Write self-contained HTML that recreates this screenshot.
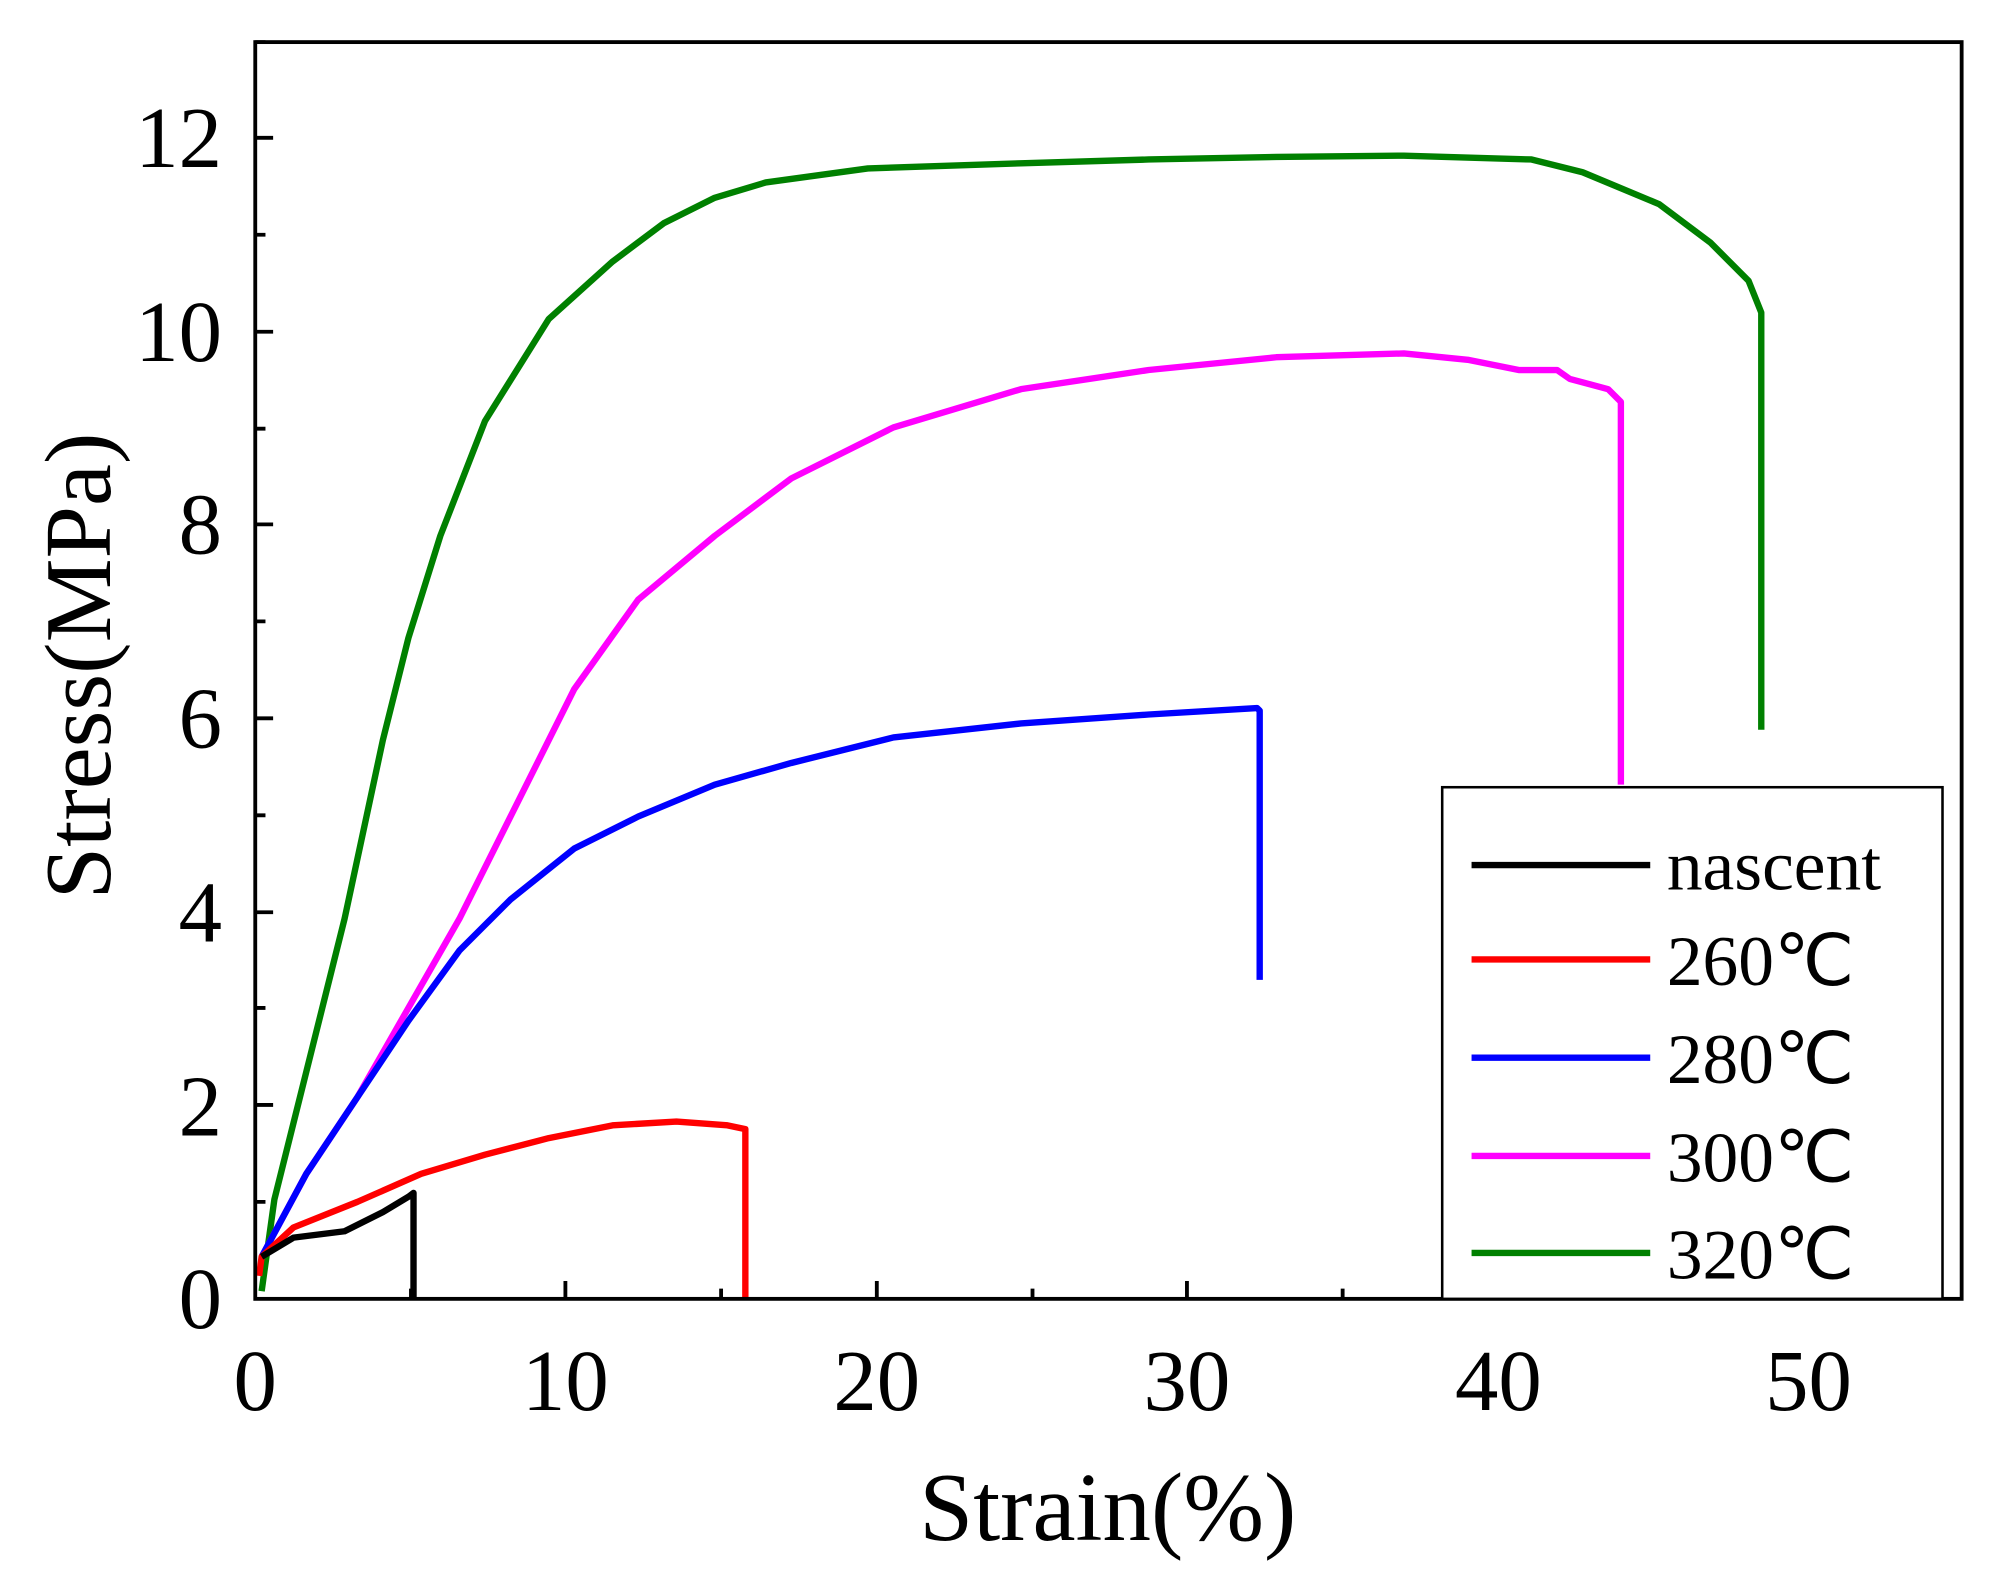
<!DOCTYPE html>
<html><head><style>html,body{margin:0;padding:0;background:#fff}svg{display:block}</style></head>
<body>
<svg width="1991" height="1577" viewBox="0 0 1560 1236" preserveAspectRatio="none" xmlns="http://www.w3.org/2000/svg" font-family="'Liberation Serif',serif">
<rect width="1560" height="1236" fill="#fff"/>
<g fill="none" stroke-width="5" stroke-linejoin="round">
<polyline stroke="#008000" points="205,1012 215,940 240,840 270,720 300,580 320,500 345,420 380,330 430,250 480,205 520,175 560,155 600,143 680,132 800,128 900,125 1000,123 1100,122 1200,125 1240,135 1300,160 1340,190 1370,220 1380,245 1380,572"/>
<polyline stroke="#ff00ff" points="205,985 240,920 280,860 320,790 360,720 400,640 450,540 500,470 560,420 620,375 700,335 800,305 900,290 1000,280 1100,277 1150,282 1190,290 1220,290 1230,297 1260,305 1270,315 1270,615"/>
<polyline stroke="#0000ff" points="205,985 240,920 280,860 320,800 360,745 400,705 450,665 500,640 560,615 620,598 700,578 800,567 900,560 985,555 987,557 987,768"/>
<polyline stroke="#ff0000" points="203,1000 205,985 230,962 280,942 330,920 380,905 430,892 480,882 530,879 570,882 584,885 584,1018"/>
<polyline stroke="#000" points="205,985 230,970 270,965 300,950 320,938 324,935 324,1018"/>
</g>
<g stroke="#000" stroke-width="3" fill="none">
<rect x="200" y="33" width="1337" height="985"/>
<path d="M443,1018v-14M687,1018v-14M930,1018v-14M1174,1018v-14M1417,1018v-14M322,1018v-8M565,1018v-8M809,1018v-8M1052,1018v-8M1296,1018v-8
M200,866h14M200,715h14M200,563h14M200,411h14M200,260h14M200,108h14M200,942h8M200,790h8M200,639h8M200,487h8M200,336h8M200,184h8M200,33h8"/>
</g>
<rect x="1130" y="617" width="392" height="401" fill="#fff" stroke="#000" stroke-width="2"/>
<g stroke-width="5">
<line x1="1153" x2="1293" y1="678" y2="678" stroke="#000"/>
<line x1="1153" x2="1293" y1="752" y2="752" stroke="#ff0000"/>
<line x1="1153" x2="1293" y1="829" y2="829" stroke="#0000ff"/>
<line x1="1153" x2="1293" y1="906" y2="906" stroke="#ff00ff"/>
<line x1="1153" x2="1293" y1="982" y2="982" stroke="#008000"/>
</g>
<g font-size="56" fill="#000">
<text x="1306" y="697">nascent</text>
<text x="1306" y="772">260℃</text>
<text x="1306" y="849">280℃</text>
<text x="1306" y="926">300℃</text>
<text x="1306" y="1002">320℃</text>
</g>
<g font-size="68" fill="#000" text-anchor="middle">
<text x="200" y="1105">0</text><text x="443" y="1105">10</text><text x="687" y="1105">20</text><text x="930" y="1105">30</text><text x="1174" y="1105">40</text><text x="1417" y="1105">50</text>
</g>
<g font-size="68" fill="#000" text-anchor="end">
<text x="174" y="1041">0</text><text x="174" y="890">2</text><text x="174" y="738">4</text><text x="174" y="586">6</text><text x="174" y="434">8</text><text x="174" y="283">10</text><text x="174" y="131">12</text>
</g>
<text x="868" y="1207" font-size="76" text-anchor="middle">Strain(%)</text>
<text transform="translate(86,522) rotate(-90)" font-size="74" text-anchor="middle">Stress(MPa)</text>
</svg>
</body></html>
